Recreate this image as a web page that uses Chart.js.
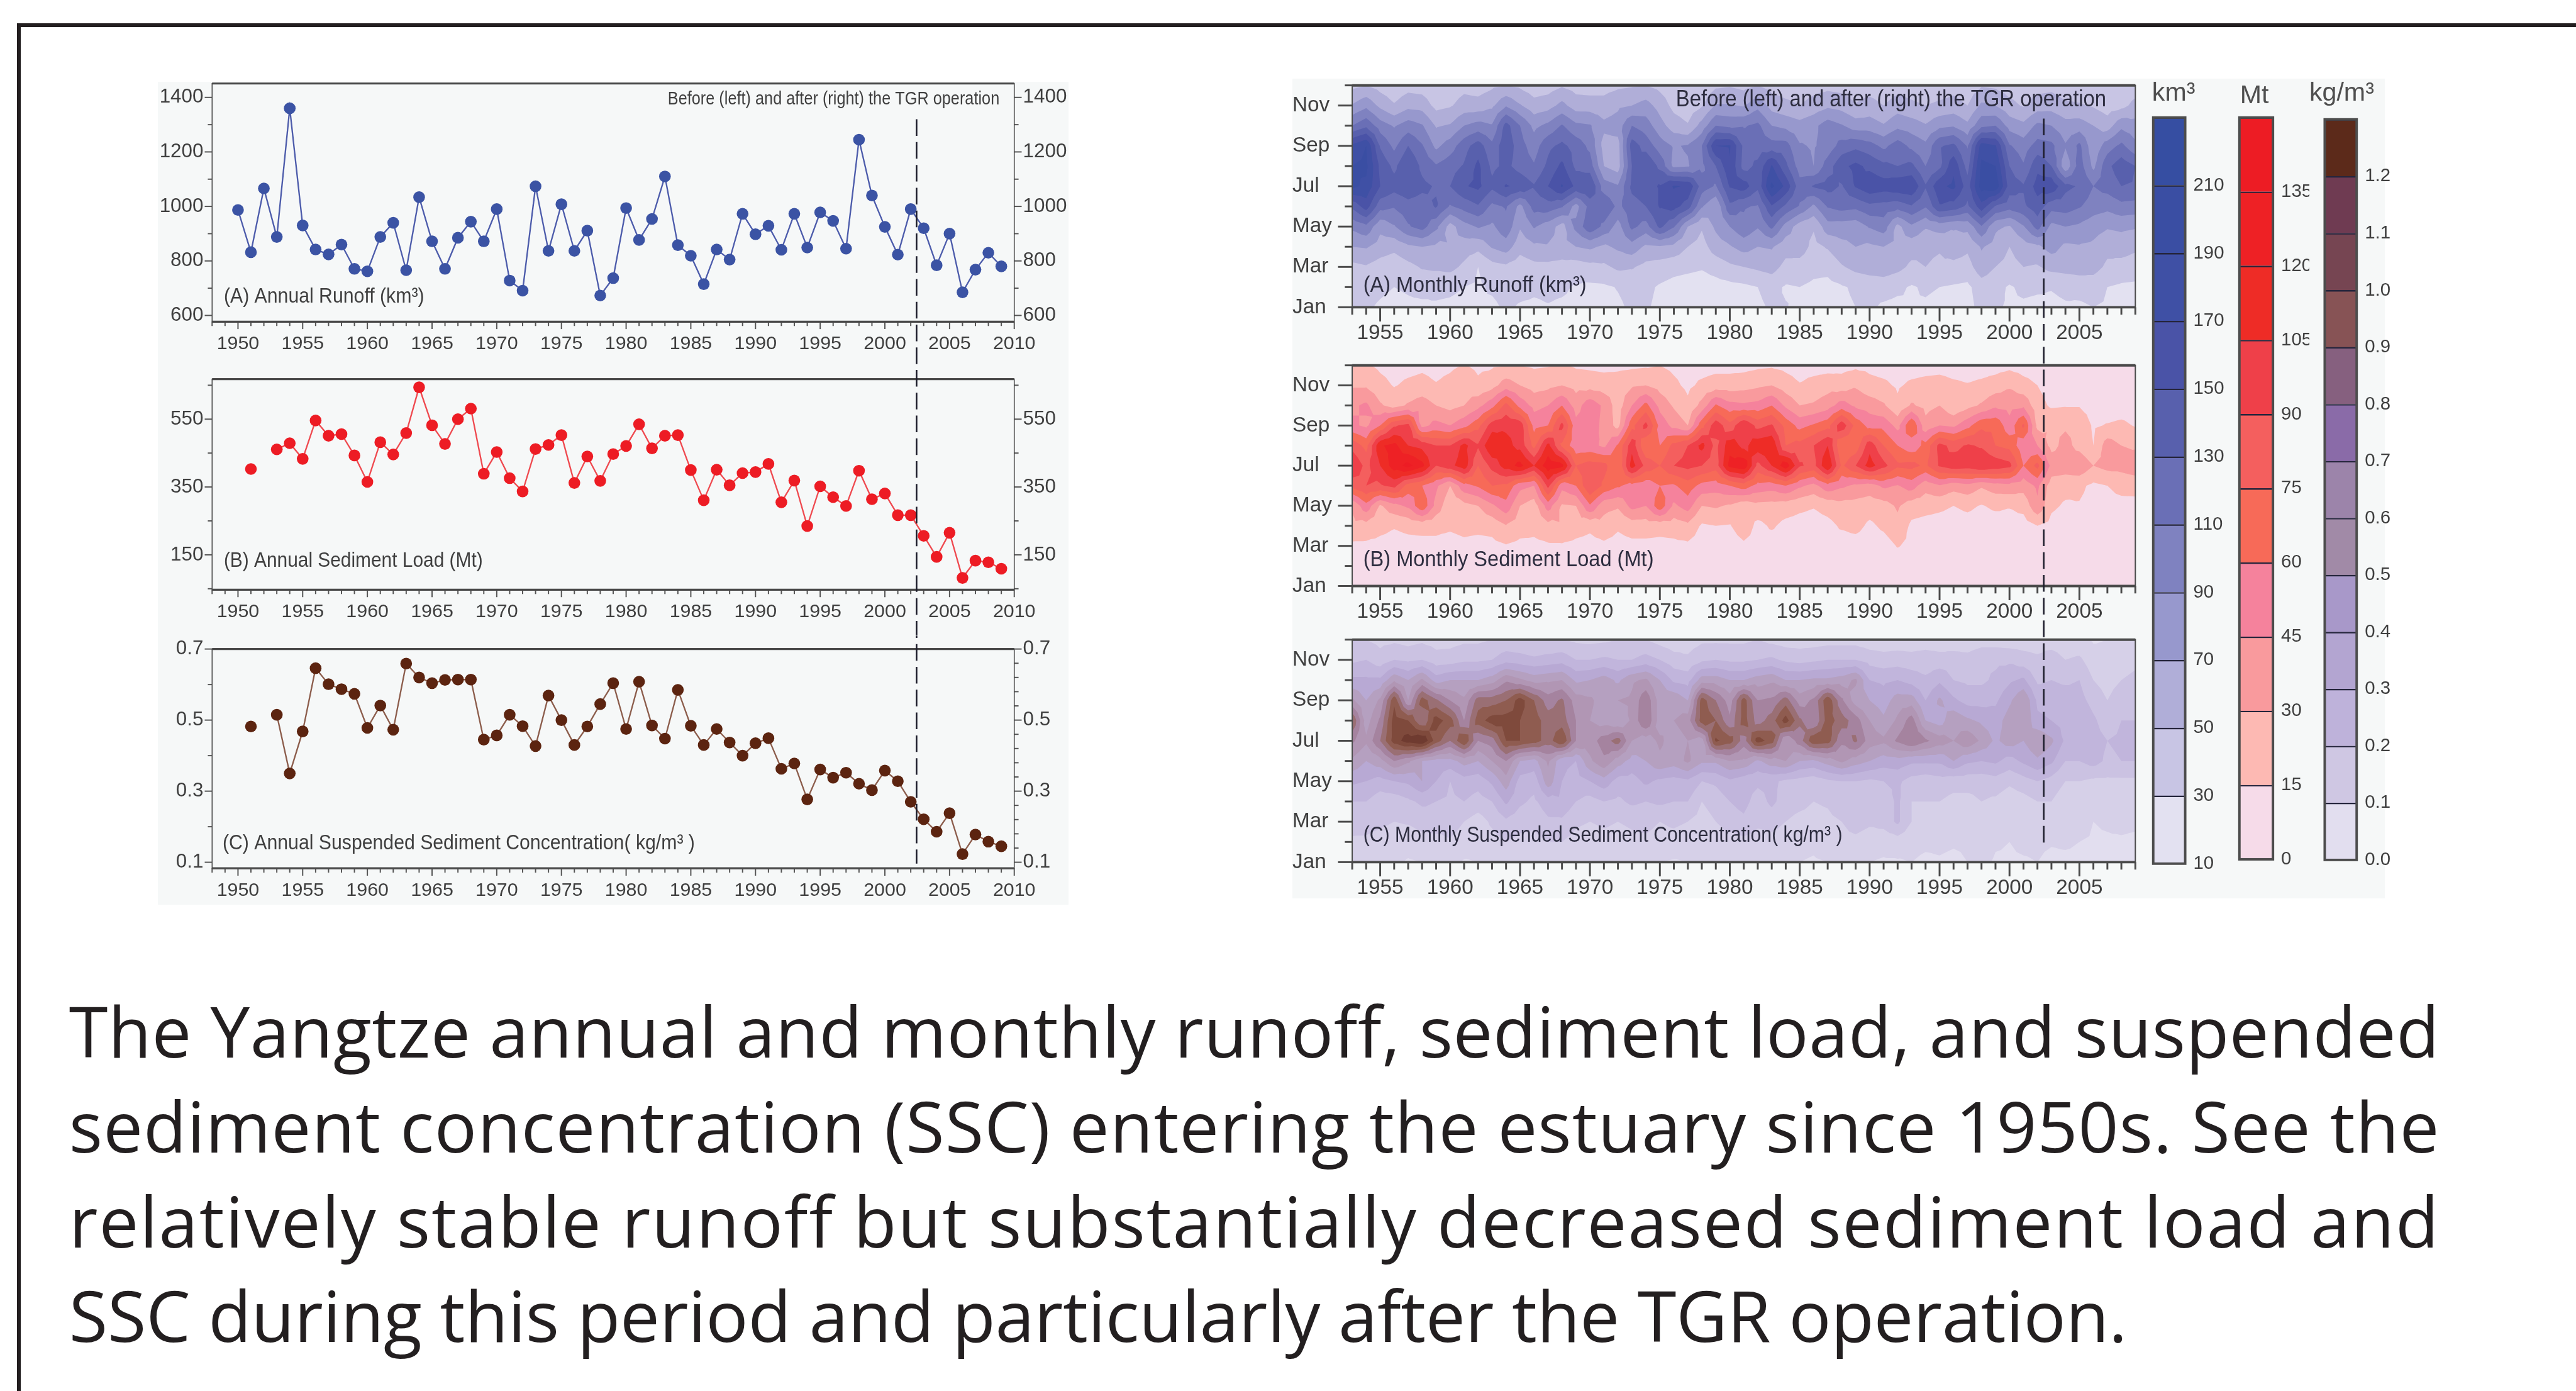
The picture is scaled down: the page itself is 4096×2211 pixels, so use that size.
<!DOCTYPE html>
<html>
<head>
<meta charset="utf-8">
<script src="https://cdn.jsdelivr.net/npm/chart.js@4"></script>
<style>
html,body{margin:0;padding:0;background:#fff;width:4096px;height:2211px;overflow:hidden}
canvas,.box,.cap{position:absolute;display:block}
.cap{white-space:pre;color:#231f20}
</style>
</head>
<body>
<script>
// everything below is measured on the 4178 wide reference, k() brings it to the window
const S = 4096 / 4178;
const k = v => v * S;
const FONT = '"Liberation Sans"';

// ---- annual series, 1950-2009 ----
const years = Array.from({length: 60}, (_, i) => 1950 + i);
const annualRunoff = [987,832,1066,888,1360,930,842,824,860,771,762,888,940,766,1034,872,771,885,944,872,990,728,691,1074,837,1008,837,911,673,737,994,877,954,1110,858,819,715,842,805,973,898,929,841,973,849,978,947,845,1245,1040,925,823,990,920,784,900,685,768,830,780];
const annualSediment = [null,403,null,461,479,433,546,501,506,443,365,482,446,509,644,532,477,550,581,389,453,376,337,462,474,503,362,440,368,447,471,535,464,501,503,400,311,401,355,391,394,418,305,369,235,352,320,294,398,314,331,267,267,206,144,215,82,133,128,109];
const annualSSC = [null,.482,null,.515,.35,.468,.646,.601,.587,.574,.478,.541,.473,.659,.62,.604,.613,.614,.614,.445,.457,.515,.483,.427,.569,.5,.43,.482,.545,.604,.475,.608,.485,.448,.585,.484,.43,.475,.437,.4,.435,.449,.363,.378,.277,.361,.338,.352,.321,.303,.358,.328,.27,.221,.186,.238,.123,.178,.158,.145];

// tick lists
const yearLabelsLeft = [1950,1955,1960,1965,1970,1975,1980,1985,1990,1995,2000,2005,2010];
const yearLabelsRight = [1955,1960,1965,1970,1975,1980,1985,1990,1995,2000,2005];
const monthLabels = ['Jan','','Mar','','May','','Jul','','Sep','','Nov',''];
const runoffTicks = [600,700,800,900,1000,1100,1200,1300,1400];
const runoffLabels = [600,800,1000,1200,1400];
const sedimentTicks = [50,150,250,350,450,550,650];
const sedimentLabels = [150,350,550];
const sscTicksLeft = [.1,.2,.3,.4,.5,.6,.7];
const sscTicksRight = [.1,.14,.18,.22,.26,.3,.34,.38,.42,.46,.5,.54,.58,.62,.66,.7];
const sscLabels = [.1,.3,.5,.7];

// ---- monthly grids, each array runs 1953-2009 ----
const gridYears = Array.from({length: 57}, (_, i) => 1953 + i);

const runoffJan = [34,32,28,25,27,26,28,27,25,28,26,33,28,27,29,27,26,26,24,27,33,32,26,23,22,21,22,23,25,27,32,31,25,23,22,26,30,33,27,25,29,27,24,28,23,37,32,28,27,25,26,28,27,30,28,25,27];
const runoffFeb = [34,36,33,30,32,36,34,33,30,27,33,38,36,33,34,33,28,26,27,31,36,34,28,24,22,20,22,24,26,30,36,28,30,26,24,28,33,36,38,34,28,33,30,28,26,40,36,28,34,33,31,34,36,38,30,27,26];
const runoffMar = [44,48,40,36,44,52,54,56,46,30,42,46,38,44,44,42,40,44,46,54,52,44,40,36,34,32,38,46,50,54,58,44,42,36,36,48,56,60,62,56,46,50,46,44,42,62,50,44,50,48,56,58,60,58,46,42,40];
const runoffApr = [70,72,62,56,66,70,66,68,60,56,72,80,58,66,68,64,70,74,66,74,82,66,68,64,50,42,60,68,78,70,72,58,60,44,52,64,70,66,70,64,58,54,52,62,54,72,62,50,60,66,78,66,68,66,56,60,54];
const runoffMay = [95,105,75,88,108,118,95,62,82,92,86,104,72,92,80,62,96,125,105,82,115,102,135,112,70,52,74,90,105,92,115,82,60,52,82,80,78,92,100,64,86,72,78,72,76,108,74,68,88,118,84,90,86,78,72,74,72];
const runoffJun = [135,160,118,112,122,120,132,108,118,128,105,112,84,118,122,112,82,118,128,105,122,130,152,158,140,92,72,125,112,108,148,126,108,86,112,118,115,125,122,118,128,112,148,142,126,162,128,118,126,142,118,120,112,100,96,104,102];
const runoffJul = [195,185,150,138,145,135,128,130,148,155,135,152,145,132,150,172,145,150,100,92,135,142,152,172,168,120,108,152,160,135,195,165,118,132,138,128,152,165,160,165,168,132,165,175,140,200,205,140,132,158,165,135,128,110,118,130,128];
const runoffAug = [190,195,145,125,150,125,112,122,132,155,125,135,122,112,135,155,125,120,70,60,130,150,125,85,88,105,130,168,122,135,172,135,100,90,120,145,155,145,135,130,135,110,125,165,122,195,190,130,112,145,130,75,120,85,125,142,130];
const runoffSep = [175,190,128,105,130,112,85,100,122,140,115,145,118,100,125,135,122,105,62,62,140,122,100,88,92,110,170,172,125,120,118,118,92,88,98,118,125,118,105,120,105,95,128,135,108,180,172,112,100,118,115,92,115,75,100,115,95];
const runoffOct = [110,125,100,88,100,92,68,72,90,98,92,138,110,85,95,112,95,92,75,80,110,100,78,60,52,78,110,105,108,115,90,85,78,85,100,92,80,80,72,85,80,72,85,88,75,105,110,82,75,95,90,78,80,70,60,85,78];
const runoffNov = [72,85,65,52,64,62,44,48,58,58,66,88,72,58,62,76,60,60,58,66,70,78,62,44,38,48,72,72,68,84,62,55,50,58,66,62,52,58,50,60,54,50,54,58,50,74,70,56,48,60,62,54,52,48,40,44,56];
const runoffDec = [44,50,42,36,42,40,32,38,44,40,46,50,46,38,40,48,42,40,42,46,48,50,44,36,32,36,46,48,44,50,42,40,38,42,44,42,38,40,36,42,40,36,38,42,36,48,46,40,38,42,44,38,38,34,30,34,40];
const runoffMonths = [runoffJan,runoffFeb,runoffMar,runoffApr,runoffMay,runoffJun,runoffJul,runoffAug,runoffSep,runoffOct,runoffNov,runoffDec];

const sedimentJan = [6,5,4,4,4,4,4,4,4,4,4,5,4,4,4,4,4,4,4,4,5,5,4,3,3,3,3,3,4,4,4,4,4,3,3,3,4,4,3,3,3,3,3,3,3,3,3,2,2,2,2,1,1,1,1,1,1];
const sedimentFeb = [7,6,5,5,5,6,5,5,5,5,5,6,5,5,6,6,5,5,5,5,6,6,5,4,4,4,4,4,4,5,5,4,4,4,4,4,4,5,5,5,4,4,4,4,3,4,3,3,3,3,3,2,2,1,1,1,1];
const sedimentMar = [12,12,11,10,11,10,12,10,12,10,11,14,11,11,13,13,11,10,12,10,11,11,10,11,12,8,7,7,12,10,7,8,7,10,10,7,8,6,8,16,11,9,8,7,6,7,7,7,6,6,5,5,5,3,3,3,3];
const sedimentApr = [26,24,19,16,18,20,18,17,19,19,20,29,22,20,25,28,22,18,24,17,22,22,21,22,26,13,15,14,24,11,17,11,10,9,11,17,20,12,18,26,12,10,9,8,9,7,7,9,8,15,10,6,5,4,4,4,4];
const sedimentMay = [32,55,28,40,48,72,40,18,25,30,42,55,30,22,52,28,30,58,35,32,50,45,70,42,52,30,32,28,20,25,24,22,18,16,20,24,24,22,24,32,22,20,18,15,18,14,18,16,20,42,18,13,14,10,10,10,9];
const sedimentJun = [80,90,88,95,68,60,48,30,55,62,75,72,50,45,95,50,60,90,72,62,55,50,60,58,68,55,52,60,68,55,52,60,48,40,55,48,42,38,48,44,52,36,44,36,40,32,38,40,36,48,22,20,18,12,15,20,22];
const sedimentJul = [105,85,105,128,140,125,90,100,115,75,95,112,125,105,130,125,75,82,80,60,112,85,75,90,95,90,82,125,132,85,105,130,92,85,120,72,90,112,95,78,80,72,92,100,98,105,100,95,60,80,40,38,42,30,35,35,38];
const sedimentAug = [85,70,118,125,105,100,90,90,110,92,120,110,100,70,110,72,50,50,42,62,100,60,60,80,90,110,85,115,100,115,118,75,80,90,105,60,65,100,75,60,50,65,95,85,92,88,75,70,50,45,25,35,25,15,38,30,28];
const sedimentSep = [48,42,60,88,95,40,50,45,55,70,98,102,100,55,60,95,50,55,40,25,70,95,55,40,30,70,100,80,105,85,92,70,55,62,70,100,70,55,55,40,75,35,45,42,55,72,72,50,78,26,28,28,26,13,16,18,14];
const sedimentOct = [42,48,32,24,32,38,30,25,30,40,55,80,55,40,45,60,38,55,42,22,45,65,40,28,18,35,62,50,48,50,60,42,30,32,38,52,42,38,32,18,32,25,30,18,25,32,42,40,42,20,13,14,14,9,7,8,8];
const sedimentNov = [28,28,20,14,18,20,16,20,26,18,24,38,30,24,26,30,25,24,22,24,28,30,24,18,12,18,22,22,24,27,30,22,16,20,24,22,28,20,18,13,18,20,22,18,16,18,22,28,20,15,9,8,9,7,5,5,5];
const sedimentDec = [16,17,12,9,10,12,10,12,16,12,13,15,15,13,14,17,13,12,11,11,12,13,15,12,9,9,10,10,10,12,13,11,9,9,9,10,12,11,9,8,8,9,9,8,8,9,9,11,9,8,6,6,5,4,4,4,4];
const sedimentMonths = [sedimentJan,sedimentFeb,sedimentMar,sedimentApr,sedimentMay,sedimentJun,sedimentJul,sedimentAug,sedimentSep,sedimentOct,sedimentNov,sedimentDec];

const sscJan = [.13,.12,.1,.12,.09,.1,.11,.13,.09,.1,.11,.13,.1,.12,.13,.12,.1,.11,.13,.1,.11,.13,.1,.09,.1,.13,.11,.12,.1,.11,.13,.11,.1,.09,.1,.12,.13,.1,.09,.09,.1,.08,.09,.08,.1,.12,.09,.09,.09,.1,.07,.07,.07,.06,.07,.08,.07];
const sscFeb = [.18,.18,.16,.15,.14,.16,.16,.19,.16,.13,.16,.2,.17,.17,.2,.2,.16,.14,.16,.15,.17,.18,.16,.16,.14,.15,.14,.14,.17,.16,.15,.13,.13,.12,.15,.17,.17,.14,.13,.15,.13,.12,.12,.11,.11,.15,.11,.1,.12,.12,.11,.12,.1,.09,.09,.09,.08];
const sscMar = [.25,.24,.22,.2,.21,.24,.26,.24,.2,.15,.22,.28,.24,.22,.28,.28,.22,.2,.22,.2,.22,.23,.2,.22,.2,.16,.2,.26,.28,.22,.25,.2,.16,.15,.16,.2,.25,.22,.24,.32,.2,.17,.16,.15,.13,.18,.14,.12,.15,.16,.14,.16,.14,.1,.11,.12,.12];
const sscApr = [.3,.3,.24,.24,.28,.32,.3,.28,.3,.26,.3,.42,.32,.28,.36,.38,.3,.26,.3,.28,.32,.3,.32,.3,.3,.2,.24,.3,.33,.26,.32,.26,.24,.2,.22,.3,.28,.2,.24,.32,.2,.2,.2,.17,.17,.2,.18,.14,.16,.2,.2,.14,.14,.12,.13,.14,.14];
const sscMay = [.42,.4,.36,.4,.42,.5,.4,.3,.36,.34,.42,.56,.36,.34,.56,.4,.36,.4,.46,.36,.36,.42,.38,.36,.38,.3,.32,.38,.34,.32,.32,.28,.26,.24,.28,.3,.3,.28,.3,.32,.26,.24,.26,.24,.24,.24,.26,.22,.26,.3,.26,.2,.2,.18,.18,.18,.18];
const sscJun = [.58,.5,.56,.7,.62,.5,.46,.46,.54,.5,.6,.7,.5,.46,.62,.42,.4,.58,.68,.55,.46,.5,.58,.55,.62,.52,.52,.6,.58,.48,.56,.6,.5,.48,.55,.62,.55,.5,.45,.46,.42,.42,.42,.5,.42,.4,.42,.36,.42,.48,.42,.3,.3,.34,.28,.3,.3];
const sscJul = [.72,.62,.8,1.05,1.15,1.2,.95,.8,1,.7,.75,1,1,.95,.85,1,.7,.65,.75,.85,.6,.55,.62,.55,.6,.55,1.02,.95,.75,1.05,.95,.6,.75,.98,.95,.72,.82,.65,.62,.72,.8,.72,.65,.6,.68,.58,.48,.55,.5,.6,.52,.38,.38,.34,.3,.32,.34];
const sscAug = [.9,.55,.72,1.05,1,.8,1.05,.95,.7,.95,1.05,1.05,1,.95,.85,.85,.7,.6,.55,.5,.62,.8,.55,.6,.65,.95,.9,.72,.95,.75,.85,1.05,.82,.7,.95,.85,.75,.6,.52,.62,.75,.5,.45,.58,.52,.48,.45,.55,.6,.42,.4,.36,.4,.32,.24,.3,.3];
const sscSep = [.62,.5,.62,.98,.6,.95,.82,.7,.62,.85,.85,.9,1.05,.9,.75,.82,.65,.62,.55,.6,.62,.78,.55,.58,.5,.95,.8,.65,.95,.7,.72,.85,.65,.72,.98,.72,.55,.5,.45,.55,.55,.4,.52,.42,.36,.36,.38,.48,.6,.38,.36,.36,.34,.26,.2,.26,.28];
const sscOct = [.42,.42,.42,.58,.5,.62,.45,.5,.5,.5,.55,.68,.62,.56,.58,.6,.48,.5,.55,.48,.58,.62,.5,.38,.36,.55,.55,.5,.5,.55,.58,.5,.5,.52,.52,.55,.62,.4,.38,.4,.36,.32,.38,.3,.28,.28,.32,.38,.42,.28,.3,.28,.3,.2,.16,.2,.22];
const sscNov = [.28,.3,.24,.3,.28,.3,.24,.25,.28,.28,.3,.36,.34,.32,.34,.36,.3,.3,.32,.3,.3,.34,.3,.24,.22,.28,.3,.28,.28,.3,.32,.28,.26,.28,.3,.3,.3,.26,.24,.25,.24,.24,.24,.26,.24,.28,.28,.28,.24,.22,.26,.2,.22,.14,.13,.16,.18];
const sscDec = [.22,.2,.17,.18,.16,.18,.16,.16,.18,.18,.2,.22,.22,.2,.2,.2,.18,.17,.18,.2,.2,.2,.16,.14,.15,.18,.18,.18,.18,.2,.17,.15,.15,.15,.16,.16,.16,.14,.14,.14,.14,.16,.14,.12,.13,.15,.15,.14,.15,.15,.14,.13,.12,.09,.1,.12,.14];
const sscMonths = [sscJan,sscFeb,sscMar,sscApr,sscMay,sscJun,sscJul,sscAug,sscSep,sscOct,sscNov,sscDec];

// ---- contour / colour bar levels ----
const runoffLevels = [10,30,50,70,90,110,130,150,170,190,210,230];
const sedimentLevels = [0,15,30,45,60,75,90,105,120,135,150];
const sscLevels = [0,.1,.2,.3,.4,.5,.6,.7,.8,.9,1,1.1,1.2,1.3];
const runoffColors = ['#e3e1f1','#c8c5e4','#b0aed8','#9798cd','#7f82c0','#6a6fb6','#5860ad','#4a53a7','#3f50a5','#3a4ea3','#364ea2'];
const sedimentColors = ['#f6dbe9','#fdb9b3','#f99a9d','#f5829c','#f76a58','#f45f5e','#ef4049','#ee2c26','#ee2125','#ed1c24'];
const sscColors = ['#e2deef','#cfc7e3','#beb2da','#b3a5d1','#a898c9','#a18aa7','#9c84aa','#8a6ba8','#86607f','#875355','#764552','#6f3b52','#5c2a1a'];
// the ssc map reads paler and browner than its own bar
const sscMapColors = ['#e2deef','#d6d0e8','#cbc2e2','#c1b5dc','#b8a9d4','#b5a0c0','#b196b4','#a5839f','#9a6f74','#8f5c50','#7f4a3c','#6f3b30','#5c2a1a'];

const captionLines = [
    'The Yangtze annual and monthly runoff, sediment load, and suspended',
    'sediment concentration (SSC) entering the estuary since 1950s. See the',
    'relatively stable runoff but substantially decreased sediment load and',
    'SSC during this period and particularly after the TGR operation.'
];
const tgrLabel = 'Before (left) and after (right) the TGR operation';
const tgrYear = 2002.45;

function addBox(x0, y0, x1, y1, color) {
    const d = document.createElement('div');
    d.className = 'box';
    d.style.cssText = `left:${k(x0)}px;top:${k(y0)}px;width:${k(x1 - x0)}px;height:${k(y1 - y0)}px;background:${color}`;
    document.body.appendChild(d);
}

function addCanvas(x0, y0, x1, y1) {
    const c = document.createElement('canvas');
    c.width = Math.round(k(x1 - x0));
    c.height = Math.round(k(y1 - y0));
    c.style.left = Math.round(k(x0)) + 'px';
    c.style.top = Math.round(k(y0)) + 'px';
    c.style.width = c.width + 'px';
    c.style.height = c.height + 'px';
    document.body.appendChild(c);
    return c.getContext('2d');
}

// frame, tick marks, dashed TGR line and the notes inside a panel
function panelPlugin(p) {
    return {
        id: 'panelPlugin',
        afterDatasetsDraw(chart) {
            const {ctx, chartArea: a, scales} = chart;
            ctx.save();
            Object.values(scales).forEach(scale => {
                ctx.strokeStyle = p.tickColor;
                ctx.lineWidth = k(p.tickWidth);
                scale.ticks.forEach(t => {
                    const pos = scale.getPixelForValue(t.value);
                    const len = k(t.label !== '' ? p.majorTick : p.minorTick);
                    ctx.beginPath();
                    if (scale.axis === 'x') {
                        ctx.moveTo(pos, a.bottom);
                        ctx.lineTo(pos, a.bottom + len);
                    } else if (scale.position === 'left') {
                        ctx.moveTo(a.left, pos);
                        ctx.lineTo(a.left - len, pos);
                    } else {
                        ctx.moveTo(a.right, pos);
                        ctx.lineTo(a.right + len, pos);
                    }
                    ctx.stroke();
                });
            });
            ctx.strokeStyle = p.frameColor;
            ctx.lineWidth = k(p.sideWidth);
            ctx.strokeRect(a.left, a.top, a.right - a.left, a.bottom - a.top);
            ctx.lineWidth = k(p.edgeWidth);
            [a.top, a.bottom].forEach(y => {
                ctx.beginPath();
                ctx.moveTo(a.left, y);
                ctx.lineTo(a.right, y);
                ctx.stroke();
            });

            // each canvas draws its own stretch, dashes keep their phase across them
            const dashX = scales.x.getPixelForValue(tgrYear);
            ctx.strokeStyle = '#1d1d2b';
            ctx.lineWidth = k(2.6);
            ctx.setLineDash([k(27), k(10)]);
            ctx.lineDashOffset = k(p.dashFrom - p.dashStart);
            ctx.beginPath();
            ctx.moveTo(dashX, k(p.dashFrom - p.canvasTop));
            ctx.lineTo(dashX, k(p.dashTo - p.canvasTop));
            ctx.stroke();
            ctx.setLineDash([]);

            ctx.fillStyle = p.noteColor;
            ctx.textBaseline = 'middle';
            p.notes.forEach(n => {
                ctx.font = `${k(n.size)}px ${FONT}`;
                ctx.fillText(n.text, k(n.x0 - p.canvasLeft), k(n.y - p.canvasTop), k(n.x1 - n.x0));
            });
            ctx.restore();
        }
    };
}

// filled contours, triangles through the grid values clipped at each level
function contourPlugin(levels, colors) {
    return {
        id: 'contourPlugin',
        beforeDatasetsDraw(chart) {
            const {ctx, chartArea: a, scales: {x, y}} = chart;
            const pts = chart.data.datasets[0].data;
            const nx = gridYears.length;
            const at = (i, m) => {
                const q = pts[m * nx + i];
                return {px: x.getPixelForValue(q.x), py: y.getPixelForValue(q.y), v: q.v};
            };
            const tris = [];
            for (let m = 0; m < 11; m++) {
                for (let i = 0; i < nx - 1; i++) {
                    const c = [at(i, m), at(i + 1, m), at(i + 1, m + 1), at(i, m + 1)];
                    const mid = {
                        px: (c[0].px + c[2].px) / 2,
                        py: (c[0].py + c[2].py) / 2,
                        v: (c[0].v + c[1].v + c[2].v + c[3].v) / 4
                    };
                    for (let e = 0; e < 4; e++) tris.push([c[e], c[(e + 1) % 4], mid]);
                }
            }
            ctx.save();
            ctx.beginPath();
            ctx.rect(a.left, a.top, a.right - a.left, a.bottom - a.top);
            ctx.clip();
            ctx.fillStyle = colors[0];
            ctx.fillRect(a.left, a.top, a.right - a.left, a.bottom - a.top);
            for (let li = 1; li < colors.length; li++) {
                const lv = levels[li];
                ctx.beginPath();
                tris.forEach(t => {
                    const out = [];
                    for (let e = 0; e < 3; e++) {
                        const p = t[e], q = t[(e + 1) % 3];
                        if (p.v >= lv) out.push(p);
                        if ((p.v >= lv) !== (q.v >= lv)) {
                            const f = (lv - p.v) / (q.v - p.v);
                            out.push({px: p.px + (q.px - p.px) * f, py: p.py + (q.py - p.py) * f});
                        }
                    }
                    if (out.length < 3) return;
                    ctx.moveTo(out[0].px, out[0].py);
                    out.slice(1).forEach(o => ctx.lineTo(o.px, o.py));
                    ctx.closePath();
                });
                ctx.fillStyle = colors[li];
                ctx.fill();
            }
            ctx.restore();
        }
    };
}

const yTickOptions = (font, padding, callback) => ({
    autoSkip: false, padding, callback, color: '#3f3f3f', maxRotation: 0,
    font: {family: 'Liberation Sans', size: k(font)}
});

function renderLineChart(chartData) {
    const box = chartData.box, area = chartData.area;
    const labelOf = v => chartData.yLabels.includes(v) ? chartData.format(v) : '';
    const ctx = addCanvas(box[0], box[1], box[2], box[3]);
    return new Chart(ctx, {
        type: 'line',
        data: {
            datasets: [{
                data: years.map((yr, i) => ({x: yr, y: chartData.values[i]})),
                borderColor: chartData.lineColor,
                borderWidth: k(2.4),
                backgroundColor: chartData.color,
                pointBackgroundColor: chartData.color,
                pointBorderWidth: 0,
                pointRadius: k(9.5),
                spanGaps: false,
                tension: 0
            }]
        },
        options: {
            responsive: false, animation: false, events: [], devicePixelRatio: 1,
            layout: {padding: {top: k(area[1] - box[1]), left: 0, right: 0, bottom: 0}},
            plugins: {legend: {display: false}, title: {display: false}, tooltip: {enabled: false}},
            scales: {
                x: {
                    type: 'linear', min: 1948, max: 2010,
                    grid: {display: false}, border: {display: false},
                    ticks: {...yTickOptions(31, k(9), v => yearLabelsLeft.includes(v) ? String(v) : ''), stepSize: 1, includeBounds: false},
                    afterFit: s => { s.height = k(box[3] - area[3]); }
                },
                y: {
                    position: 'left', min: chartData.yMin, max: chartData.yMax,
                    grid: {display: false}, border: {display: false},
                    afterBuildTicks: s => { s.ticks = chartData.yTicksLeft.map(v => ({value: v})); },
                    ticks: yTickOptions(32, k(6), labelOf),
                    afterFit: s => { s.width = k(area[0] - box[0]); }
                },
                y2: {
                    position: 'right', min: chartData.yMin, max: chartData.yMax,
                    grid: {display: false}, border: {display: false},
                    afterBuildTicks: s => { s.ticks = chartData.yTicksRight.map(v => ({value: v})); },
                    ticks: yTickOptions(32, k(6), labelOf),
                    afterFit: s => { s.width = k(box[2] - area[2]); }
                }
            }
        },
        plugins: [panelPlugin({
            canvasLeft: box[0], canvasTop: box[1],
            dashStart: 193, dashFrom: chartData.dash[0], dashTo: chartData.dash[1],
            tickColor: '#555', tickWidth: 2, majorTick: 12, minorTick: 7,
            frameColor: '#4a4a4a', sideWidth: 1.6, edgeWidth: 3.2,
            noteColor: '#404040', notes: chartData.notes
        })]
    });
}

function renderContourChart(chartData) {
    const box = chartData.box, area = chartData.area;
    const ctx = addCanvas(box[0], box[1], box[2], box[3]);
    const points = [];
    chartData.months.forEach((row, m) => row.forEach((v, i) => points.push({x: gridYears[i], y: m + 1, v})));
    return new Chart(ctx, {
        type: 'scatter',
        data: {datasets: [{data: points, pointRadius: 0}]},
        options: {
            responsive: false, animation: false, events: [], devicePixelRatio: 1,
            layout: {padding: {top: k(area[1] - box[1]), left: 0, bottom: 0, right: k(box[2] - area[2])}},
            plugins: {legend: {display: false}, title: {display: false}, tooltip: {enabled: false}},
            scales: {
                x: {
                    type: 'linear', min: 1953, max: 2009,
                    grid: {display: false}, border: {display: false},
                    ticks: {...yTickOptions(34, k(14), v => yearLabelsRight.includes(v) ? String(v) : ''), stepSize: 1},
                    afterFit: s => { s.height = k(box[3] - area[3]); }
                },
                y: {
                    min: 1, max: 12,
                    grid: {display: false}, border: {display: false},
                    ticks: {...yTickOptions(34, k(28), v => monthLabels[v - 1]), stepSize: 1, crossAlign: 'far'},
                    afterFit: s => { s.width = k(area[0] - box[0]); }
                }
            }
        },
        plugins: [contourPlugin(chartData.levels, chartData.colors), panelPlugin({
            canvasLeft: box[0], canvasTop: box[1],
            dashStart: 192, dashFrom: chartData.dash[0], dashTo: chartData.dash[1],
            tickColor: '#4a4a4a', tickWidth: 3, majorTick: 23, minorTick: 12,
            frameColor: '#4a4a4a', sideWidth: 2, edgeWidth: 4,
            noteColor: '#2d2d3f', notes: chartData.notes
        })]
    });
}

function renderColorBar(chartData) {
    const box = chartData.box, area = chartData.area;
    const ctx = addCanvas(box[0], box[1], box[2], box[3]);
    const levels = chartData.levels;
    return new Chart(ctx, {
        type: 'bar',
        data: {
            labels: [''],
            datasets: chartData.colors.map((c, i) => ({
                data: [[levels[i], levels[i + 1]]],
                backgroundColor: c,
                borderColor: '#25253c',
                borderWidth: {top: k(2.4), bottom: 0, left: 0, right: 0},
                borderSkipped: false,
                grouped: false,
                barPercentage: 1,
                categoryPercentage: 1
            }))
        },
        options: {
            responsive: false, animation: false, events: [], devicePixelRatio: 1,
            layout: {padding: {top: k(area[1] - box[1]), left: k(area[0] - box[0]), bottom: k(box[3] - area[3]), right: 0}},
            plugins: {legend: {display: false}, title: {display: false}, tooltip: {enabled: false}},
            scales: {
                x: {display: false},
                y: {
                    position: 'right', min: levels[0], max: levels[levels.length - 1],
                    grid: {display: false}, border: {display: false},
                    afterBuildTicks: s => { s.ticks = levels.slice(0, -1).map(v => ({value: v})); },
                    ticks: yTickOptions(30, k(5), chartData.format),
                    afterFit: s => { s.width = k(box[2] - area[2]); }
                }
            }
        },
        plugins: [{
            id: 'barFrame',
            afterDatasetsDraw(chart) {
                const {ctx, chartArea: a} = chart;
                ctx.save();
                ctx.strokeStyle = '#4d4d4d';
                ctx.lineWidth = k(4);
                ctx.strokeRect(a.left, a.top, a.right - a.left, a.bottom - a.top);
                ctx.fillStyle = '#4f4f4f';
                ctx.font = `${k(42)}px ${FONT}`;
                ctx.textBaseline = 'middle';
                ctx.fillText(chartData.unit, k(chartData.unitX - box[0]), k(chartData.unitY - box[1]));
                ctx.restore();
            }
        }]
    });
}

function renderCaption() {
    const fs = 112;
    const ruler = document.createElement('canvas').getContext('2d');
    ruler.font = `${fs}px "Open Sans"`;
    const m = ruler.measureText('Hg');
    const asc = m.fontBoundingBoxAscent, desc = m.fontBoundingBoxDescent;
    const baselines = [1715, 1869, 2023, 2176];
    const widths = [3845, 3845, 3845, 3338];
    captionLines.forEach((line, i) => {
        const d = document.createElement('div');
        d.className = 'cap';
        d.textContent = line;
        const natural = ruler.measureText(line).width;
        const spacing = (k(widths[i]) - natural) / line.length;
        d.style.cssText = `left:${k(112)}px;top:${k(baselines[i]) - asc}px;font:${fs}px/${asc + desc}px "Open Sans";letter-spacing:${spacing}px`;
        document.body.appendChild(d);
    });
}

// page furniture
addBox(28, 38, 4178, 44, '#231f20');
addBox(28, 38, 34, 2255, '#231f20');
addBox(256, 133, 1733, 1467, '#f6f8f8');
addBox(2096, 127, 3868, 1457, '#f6f8f8');

renderLineChart({
    box: [256, 70, 1733, 590], area: [344, 135, 1645, 521], dash: [193, 590],
    values: annualRunoff, yMin: 577, yMax: 1451,
    yTicksLeft: runoffTicks, yTicksRight: runoffTicks, yLabels: runoffLabels, format: v => String(v),
    color: '#3b53a4', lineColor: '#4d5cab',
    notes: [
        {text: tgrLabel, x0: 1083, x1: 1621, y: 161, size: 30},
        {text: '(A) Annual Runoff (km³)', x0: 363, x1: 688, y: 481, size: 34}
    ]
});
renderLineChart({
    box: [256, 545, 1733, 1030], area: [344, 615, 1645, 957], dash: [590, 1030],
    values: annualSediment, yMin: 47, yMax: 668,
    yTicksLeft: sedimentTicks, yTicksRight: sedimentTicks, yLabels: sedimentLabels, format: v => String(v),
    color: '#ed1c24', lineColor: '#ef4a50',
    notes: [{text: '(B) Annual Sediment Load (Mt)', x0: 363, x1: 783, y: 910, size: 34}]
});
renderLineChart({
    box: [256, 982, 1733, 1467], area: [344, 1052, 1645, 1408], dash: [1030, 1400],
    values: annualSSC, yMin: .083, yMax: .7,
    yTicksLeft: sscTicksLeft, yTicksRight: sscTicksRight, yLabels: sscLabels, format: v => v.toFixed(1),
    color: '#5c2410', lineColor: '#8c5d4c',
    notes: [{text: '(C) Annual Suspended Sediment Concentration( kg/m³ )', x0: 361, x1: 1127, y: 1367, size: 34}]
});

renderContourChart({
    box: [2096, 70, 3480, 570], area: [2193, 138, 3463, 498], dash: [192, 560],
    months: runoffMonths, levels: runoffLevels, colors: runoffColors,
    notes: [
        {text: tgrLabel, x0: 2718, x1: 3416, y: 162, size: 38},
        {text: '(A) Monthly Runoff (km³)', x0: 2211, x1: 2573, y: 463, size: 36}
    ]
});
renderContourChart({
    box: [2096, 525, 3480, 1025], area: [2193, 592, 3463, 950], dash: [560, 1005],
    months: sedimentMonths, levels: sedimentLevels, colors: sedimentColors,
    notes: [{text: '(B) Monthly Sediment Load (Mt)', x0: 2211, x1: 2682, y: 908, size: 36}]
});
renderContourChart({
    box: [2096, 970, 3480, 1470], area: [2193, 1037, 3463, 1398], dash: [1005, 1375],
    months: sscMonths, levels: sscLevels, colors: sscMapColors,
    notes: [{text: '(C) Monthly Suspended Sediment Concentration( kg/m³ )', x0: 2211, x1: 2988, y: 1355, size: 36}]
});

renderColorBar({
    box: [3480, 130, 3625, 1440], area: [3492, 191, 3544, 1401],
    levels: runoffLevels, colors: runoffColors, format: v => String(v),
    unit: 'km³', unitX: 3490, unitY: 152
});
renderColorBar({
    box: [3622, 130, 3745, 1440], area: [3632, 191, 3686, 1394],
    levels: sedimentLevels, colors: sedimentColors, format: v => String(v),
    unit: 'Mt', unitX: 3633, unitY: 156
});
renderColorBar({
    box: [3742, 130, 3885, 1440], area: [3770, 194, 3822, 1395],
    levels: sscLevels, colors: sscColors, format: v => v.toFixed(1),
    unit: 'kg/m³', unitX: 3745, unitY: 152
});

renderCaption();
</script>
</body>
</html>
